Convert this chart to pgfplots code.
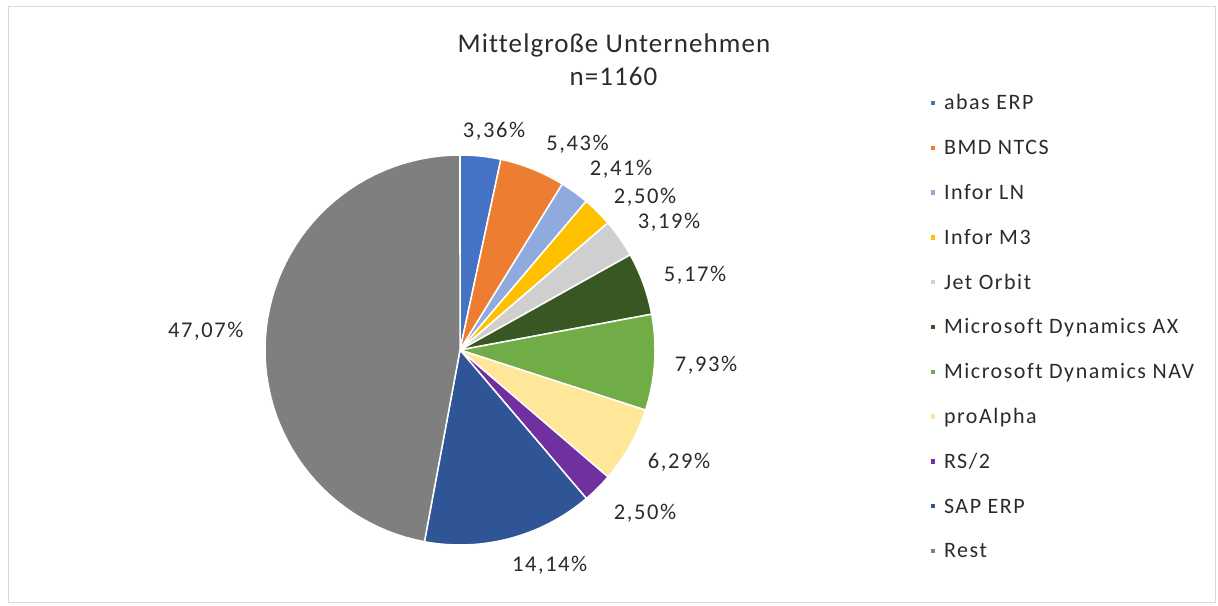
\documentclass[border=0pt]{standalone}
\usepackage{fontspec}
\setmainfont[LetterSpace=7,Ligatures=NoCommon]{Carlito}
\newfontfamily\titlefamily[LetterSpace=4,Ligatures=NoCommon]{Carlito}
\usepackage{pgfplots}
\pgfplotsset{compat=1.18}

\definecolor{cAbas}{HTML}{4472C4}
\definecolor{cBMD}{HTML}{ED7D31}
\definecolor{cLN}{HTML}{8FAADC}
\definecolor{cMd}{HTML}{FFC000}
\definecolor{cJet}{HTML}{CFCFCF}
\definecolor{cAX}{HTML}{385723}
\definecolor{cNAV}{HTML}{70AD47}
\definecolor{cPro}{HTML}{FFE699}
\definecolor{cRS}{HTML}{7030A0}
\definecolor{cSAP}{HTML}{2F5597}
\definecolor{cRest}{HTML}{7F7F7F}
\definecolor{txt}{HTML}{2B2B2B}
\definecolor{frame}{HTML}{D9D9D9}

\newcommand{\labelfont}{\fontsize{22.5bp}{27bp}\selectfont\color{txt}}
\newcommand{\legfont}{\fontsize{22bp}{26bp}\selectfont\color{txt}}
\newcommand{\titfont}{\titlefamily\fontsize{27bp}{33bp}\selectfont\color{txt}}

% slice: colour, cumulative start %, cumulative end %
\newcommand{\slice}[3]{%
  \addplot[fill=#1, draw=white, line width=1.5bp, domain={3.6*#2}:{3.6*#3}, samples=60]
    ({460+195*sin(x)},{256+195*cos(x)}) -- (axis cs:460,256) -- cycle;
}

\begin{document}
\begin{tikzpicture}
\useasboundingbox (0,0) rectangle (1218bp,606bp);
\begin{axis}[
  at={(0,0)}, anchor=south west,
  scale only axis, width=1218bp, height=606bp,
  xmin=0, xmax=1218, ymin=0, ymax=606,
  hide axis, clip=false,
  legend image code/.code={\fill[#1] (0bp,4bp) rectangle (6bp,10bp);},
  legend cell align=left,
  legend style={at={(axis cs:929,510)}, anchor=north west,
    draw=none, fill=none, inner sep=0pt, outer sep=0pt,
    row sep=26.8bp, column sep=7.5bp,
    cells={anchor=base west},
    nodes={inner sep=0pt, text height=14bp, text depth=4bp, font=\legfont}},
]
\draw[frame, line width=1.5bp] (axis cs:8.5,599.5) -- (axis cs:1215.5,599.5) -- (axis cs:1215.5,3.5) -- (axis cs:8.5,3.5) -- cycle;

\slice{cAbas}{0}{3.36}     \addlegendentry{abas ERP}
\slice{cBMD}{3.36}{8.79}   \addlegendentry{BMD NTCS}
\slice{cLN}{8.79}{11.20}   \addlegendentry{Infor LN}
\slice{cMd}{11.20}{13.70}  \addlegendentry{Infor M3}
\slice{cJet}{13.70}{16.89} \addlegendentry{Jet Orbit}
\slice{cAX}{16.89}{22.06}  \addlegendentry{Microsoft Dynamics AX}
\slice{cNAV}{22.06}{29.99} \addlegendentry{Microsoft Dynamics NAV}
\slice{cPro}{29.99}{36.28} \addlegendentry{proAlpha}
\slice{cRS}{36.28}{38.78}  \addlegendentry{RS/2}
\slice{cSAP}{38.78}{52.92} \addlegendentry{SAP ERP}
\slice{cRest}{52.92}{100}  \addlegendentry{Rest}

\node[anchor=base, font=\titfont] at (axis cs:614,553) {Mittelgroße Unternehmen};
\node[anchor=base, font=\titfont] at (axis cs:613.5,520) {n=1160};

\node[anchor=base, font=\labelfont] at (axis cs:494,468.7) {3,36\%};
\node[anchor=base, font=\labelfont] at (axis cs:577.5,455.3) {5,43\%};
\node[anchor=base, font=\labelfont] at (axis cs:621,430) {2,41\%};
\node[anchor=base, font=\labelfont] at (axis cs:645,402.7) {2,50\%};
\node[anchor=base, font=\labelfont] at (axis cs:669,377.7) {3,19\%};
\node[anchor=base, font=\labelfont] at (axis cs:695,324.3) {5,17\%};
\node[anchor=base, font=\labelfont] at (axis cs:706,234.3) {7,93\%};
\node[anchor=base, font=\labelfont] at (axis cs:679,137.7) {6,29\%};
\node[anchor=base, font=\labelfont] at (axis cs:645,86.7) {2,50\%};
\node[anchor=base, font=\labelfont] at (axis cs:549.7,34.3) {14,14\%};
\node[anchor=base, font=\labelfont] at (axis cs:205.8,268.7) {47,07\%};
\end{axis}
\end{tikzpicture}
\end{document}
